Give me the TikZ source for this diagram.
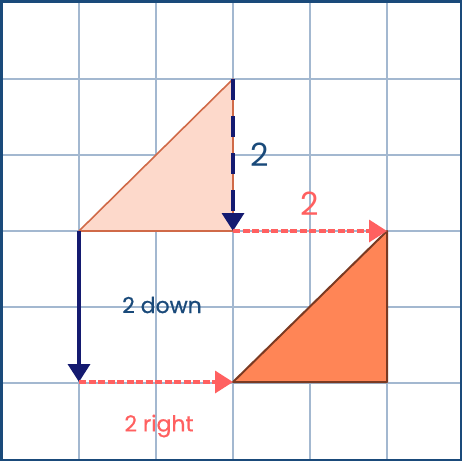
\documentclass[tikz,border=0pt]{standalone}
\usepackage{fontspec}
\setmainfont{Poppins}
\newfontfamily\labelfont[FakeBold=0.6]{Poppins}
\usetikzlibrary{arrows.meta}
\definecolor{frameblue}{HTML}{1A4A7A}
\definecolor{gridblue}{HTML}{A3B8D0}
\definecolor{navy}{HTML}{141A70}
\definecolor{coral}{HTML}{FF6060}
\definecolor{lightfill}{HTML}{FDD9CB}
\definecolor{lightedge}{HTML}{D06A48}
\definecolor{darkfill}{HTML}{FF8556}
\definecolor{darkedge}{HTML}{7A3A22}
\tikzset{
  gridline/.style={draw=gridblue, line width=1.6pt},
  navyarrow/.style={draw=navy, line width=3.5pt, -{Triangle[length=18pt,width=22pt]}},
  navydash/.style={navyarrow, dash pattern=on 21pt off 16pt},
  redarrow/.style={draw=coral, line width=3.5pt, dash pattern=on 7pt off 2.5pt, -{Triangle[length=18pt,width=22pt]}},
  bignum/.style={font=\fontsize{32}{36}\selectfont, inner sep=0pt},
  smalltext/.style={font=\labelfont\fontsize{22}{26}\selectfont, inner sep=0pt},
}
\begin{document}
\begin{tikzpicture}[x=1pt,y=-1pt]
\useasboundingbox (0,0) rectangle (462,461);
% grid
\foreach \g in {79,156,233,310,387} {
  \draw[gridline] (\g,1.5) -- (\g,459.5);
}
\foreach \g in {79,155,231,307,383} {
  \draw[gridline] (1.5,\g) -- (460.5,\g);
}
% points
\coordinate (A1) at (79,231);
\coordinate (A2) at (233,79);
\coordinate (A3) at (233,231);
\coordinate (B1) at (233,382);
\coordinate (B2) at (387,231);
\coordinate (B3) at (387,382);
\coordinate (C1) at (79,382);
% triangles
\filldraw[fill=lightfill, draw=lightedge, line width=1.6pt, line join=round] (A1) -- (A2) -- (A3) -- cycle;
\filldraw[fill=darkfill, draw=darkedge, line width=2pt, line join=round] (B1) -- (B2) -- (B3) -- cycle;
% arrows
\draw[navydash] (A2) -- (A3);
\draw[redarrow] (A3) -- (B2);
\draw[navyarrow] (A1) -- (C1);
\draw[redarrow] (C1) -- (B1);
% labels
\node[bignum, text=frameblue] (l1) at (260,155) {2};
\node[bignum, text=coral] (l2) at (310,204) {2};
\node[smalltext, text=frameblue] (l3) at (162,305) {2 down};
\node[smalltext, text=coral] (l4) at (159,426) {2 right};
% frame
\draw[draw=frameblue, line width=2.5pt] (1.25,1.25) rectangle (460.75,459.75);
\end{tikzpicture}
\end{document}
